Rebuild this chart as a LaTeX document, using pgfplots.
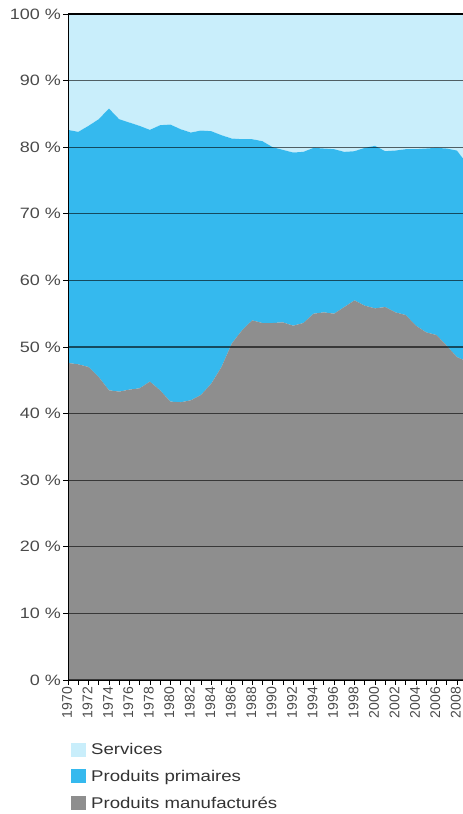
\documentclass[border=0pt]{standalone}
\usepackage{fontspec}
\setmainfont{Liberation Sans}
\newfontfamily\widesans[FakeStretch=1.2]{Liberation Sans}
\usepackage{pgfplots}
\usepackage{pgfplotstable}
\pgfplotsset{compat=1.18}

\definecolor{servcol}{HTML}{C9EEFB}
\definecolor{primcol}{HTML}{35B9EE}
\definecolor{manucol}{HTML}{8E8E8E}
\definecolor{labelgray}{HTML}{4A4A4A}

% Shares of exports (%), stacked: manufactured + primary + services = 100
\pgfplotstableread{
year manu prim serv
1970 47.6 35.0 17.4
1971 47.4 34.9 17.7
1972 47.0 36.2 16.8
1973 45.5 38.7 15.8
1974 43.5 42.3 14.2
1975 43.3 40.9 15.8
1976 43.6 40.1 16.3
1977 43.8 39.4 16.8
1978 44.8 37.8 17.4
1979 43.5 39.8 16.7
1980 41.8 41.6 16.6
1981 41.7 41.0 17.3
1982 42.0 40.2 17.8
1983 42.8 39.7 17.5
1984 44.5 37.9 17.6
1985 47.0 34.8 18.2
1986 50.5 30.8 18.7
1987 52.5 28.7 18.8
1988 54.0 27.2 18.8
1989 53.6 27.3 19.1
1990 53.6 26.4 20.0
1991 53.7 25.9 20.4
1992 53.2 26.0 20.8
1993 53.6 25.7 20.7
1994 55.0 24.9 20.1
1995 55.2 24.6 20.2
1996 55.0 24.7 20.3
1997 56.0 23.3 20.7
1998 57.0 22.4 20.6
1999 56.2 23.7 20.1
2000 55.8 24.4 19.8
2001 56.0 23.4 20.6
2002 55.2 24.3 20.5
2003 54.8 24.9 20.3
2004 53.2 26.5 20.3
2005 52.2 27.6 20.2
2006 51.8 28.1 20.1
2007 50.2 29.6 20.2
2008 48.5 31.0 20.5
2009 47.8 29.7 22.5
}\shares

\begin{document}
\begin{tikzpicture}
\useasboundingbox (0,0) rectangle (463bp,814bp);
\begin{axis}[
  at={(68bp,134bp)}, anchor=south west,
  scale only axis, width=395bp, height=666bp,
  xmin=1970, xmax=2008.6, ymin=0, ymax=100,
  stack plots=y,
  axis on top,
  axis x line*=bottom, axis y line*=left,
  axis line style={black, line width=0.9bp, -},
  /pgf/number format/assume math mode=true,
  /pgf/number format/1000 sep={},
  xtick={1970,1972,...,2008},
  minor xtick={1971,1973,...,2009},
  tick align=outside,
  major tick length=5bp, minor tick length=5bp,
  tick style={black, line width=0.7bp},
  xticklabel style={rotate=90, anchor=east, inner sep=2bp, yshift=1bp,
    font=\fontsize{14bp}{14bp}\selectfont, text=labelgray},
  ytick={0,10,...,100},
  yticklabel={\pgfmathprintnumber{\tick}\ \%},
  yticklabel style={font=\widesans\fontsize{15bp}{15bp}\selectfont,
    text=labelgray, inner sep=2bp},
  ymajorgrids,
  grid style={black, opacity=0.6, line width=1.1bp},
  extra y ticks={100},
  extra y tick labels={},
  extra y tick style={grid style={black, opacity=1, line width=1.5bp}},
  reverse legend,
  legend cell align=left,
  legend style={at={(0,0)}, anchor=north west, xshift=0bp, yshift=-60bp,
    draw=none, fill=none, row sep=12bp,
    font=\widesans\fontsize{15.5bp}{15.5bp}\selectfont, text=black!80,
    nodes={inner xsep=5bp, inner ysep=1bp}},
  legend image code/.code={\path[#1] (0bp,-7bp) rectangle (15bp,7bp);},
]
\addplot[draw=none, fill=manucol] table[x=year, y=manu]{\shares} \closedcycle;
\addplot[draw=none, fill=primcol] table[x=year, y=prim]{\shares} \closedcycle;
\addplot[draw=none, fill=servcol] table[x=year, y=serv]{\shares} \closedcycle;
\legend{Produits manufacturés, Produits primaires, Services}
\end{axis}
\end{tikzpicture}
\end{document}
